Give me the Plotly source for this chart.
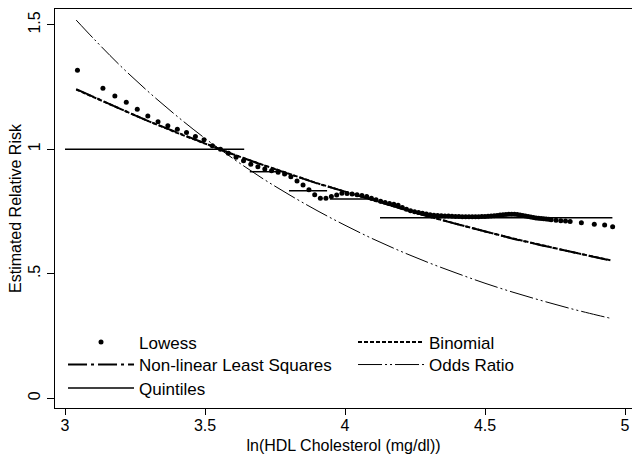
import numpy as np
import plotly.graph_objects as go

# ---------------- data ----------------
# Lowess smoother, evaluated at observed HDL values (mg/dl); x-axis is ln(HDL)
lowess_hdl = [21, 23, 24, 25, 26, 27, 28, 29, 30, 31, 32, 33, 34, 35, 36, 37, 38, 39, 40,
              41, 42, 43, 44, 45, 46, 47, 48, 49, 50, 51, 52, 53, 54, 55, 56, 57, 58, 59, 60,
              61, 62, 63, 64, 65, 66, 67, 68, 69, 70, 71, 72, 73, 74, 75, 76, 77, 78, 79, 80,
              81, 82, 83, 84, 85, 86, 87, 88, 89, 90, 91, 92, 93, 94, 95, 96, 97, 98, 99, 100,
              101, 102, 103, 104, 105, 106, 107, 108, 109, 110, 111, 112, 113, 114, 116, 118,
              120, 122, 127, 133, 138, 142]
lowess_rr = [1.318, 1.245, 1.214, 1.189, 1.161, 1.134, 1.111, 1.095, 1.081, 1.067, 1.051,
             1.038, 1.014, 1.000, 0.984, 0.968, 0.954, 0.940, 0.930, 0.921, 0.914, 0.908,
             0.901, 0.890, 0.873, 0.857, 0.838, 0.817, 0.803, 0.803, 0.810, 0.816, 0.824,
             0.822, 0.820, 0.817, 0.814, 0.810, 0.803, 0.797, 0.791, 0.786, 0.782, 0.779,
             0.775, 0.766, 0.759, 0.753, 0.749, 0.746, 0.743, 0.740, 0.737, 0.735, 0.734,
             0.733, 0.732, 0.732, 0.731, 0.730, 0.730, 0.729, 0.729, 0.729, 0.729, 0.729,
             0.729, 0.730, 0.730, 0.731, 0.732, 0.733, 0.734, 0.736, 0.737, 0.738, 0.739,
             0.739, 0.739, 0.738, 0.736, 0.734, 0.732, 0.730, 0.728, 0.726, 0.724, 0.723,
             0.722, 0.721, 0.720, 0.719, 0.717, 0.715, 0.713, 0.712, 0.710, 0.705, 0.699,
             0.696, 0.689]

# Fitted curves (ln HDL grid)
curve_x = [3.04, 3.10, 3.20, 3.30, 3.40, 3.50, 3.60, 3.70, 3.80, 3.90, 4.00, 4.10, 4.20,
           4.30, 4.40, 4.50, 4.60, 4.70, 4.80, 4.90, 4.95]
nls_rr = [1.242, 1.211, 1.161, 1.112, 1.067, 1.022, 0.980, 0.939, 0.900, 0.863, 0.830,
          0.795, 0.762, 0.729, 0.699, 0.669, 0.641, 0.615, 0.589, 0.565, 0.553]
binomial_rr = [1.240, 1.210, 1.160, 1.112, 1.066, 1.022, 0.980, 0.940, 0.901, 0.864, 0.830,
               0.795, 0.762, 0.730, 0.699, 0.670, 0.642, 0.615, 0.590, 0.566, 0.554]
odds_ratio_rr = [1.519, 1.447, 1.333, 1.229, 1.133, 1.044, 0.963, 0.887, 0.818, 0.754,
                 0.695, 0.640, 0.590, 0.544, 0.502, 0.462, 0.426, 0.393, 0.362, 0.334, 0.321]

# Quintile step estimates: (start, end, relative risk)
quint_start = [3.00, 3.66, 3.80, 3.946, 4.125]
quint_end = [3.64, 3.757, 3.936, 4.107, 4.955]
quint_rr = [1.00, 0.91, 0.834, 0.80, 0.725]

x_ticks = [3, 3.5, 4, 4.5, 5]
x_ticklabels = ["3", "3.5", "4", "4.5", "5"]
y_ticks = [0, 0.5, 1, 1.5]
y_ticklabels = ["0", ".5", "1", "1.5"]

FONT = "Liberation Sans, Arial, sans-serif"

# ---------------- figure ----------------
fig = go.Figure()

fig.add_trace(go.Scatter(
    x=np.log(lowess_hdl), y=lowess_rr, mode="markers", name="Lowess",
    marker=dict(color="black", size=5, line=dict(width=0)), legend="legend"))

fig.add_trace(go.Scatter(
    x=curve_x, y=binomial_rr, mode="lines", name="Binomial",
    line=dict(color="black", width=2, dash="4px,2px"), legend="legend2"))

fig.add_trace(go.Scatter(
    x=curve_x, y=nls_rr, mode="lines", name="Non-linear Least Squares",
    line=dict(color="black", width=2, dash="19px,4px,3px,4px"), legend="legend3"))

fig.add_trace(go.Scatter(
    x=curve_x, y=odds_ratio_rr, mode="lines", name="Odds Ratio", line_shape="spline",
    line=dict(color="black", width=1, dash="24px,3px,2px,3px,2px,3px"), legend="legend4"))

qx, qy = [], []
for s, e, r in zip(quint_start, quint_end, quint_rr):
    qx += [s, e, None]
    qy += [r, r, None]
fig.add_trace(go.Scatter(
    x=qx, y=qy, mode="lines", name="Quintiles", connectgaps=False,
    line=dict(color="black", width=1.5), legend="legend5"))

legend_common = dict(
    bgcolor="rgba(0,0,0,0)", borderwidth=0, font=dict(family=FONT, size=17, color="black"),
    itemwidth=66, traceorder="normal", orientation="v", xanchor="left", yanchor="middle",
    tracegroupgap=0, itemclick=False, itemdoubleclick=False)

LX, RX = 0.0139, 0.5165
R1, R2, R3 = 0.1642, 0.1078, 0.0489

fig.update_layout(
    width=632, height=458,
    margin=dict(l=55, r=0, t=9, b=50),
    paper_bgcolor="white", plot_bgcolor="white",
    font=dict(family=FONT, size=16, color="black"),
    showlegend=True,
    legend=dict(x=LX, y=R1, **legend_common),
    legend2=dict(x=RX, y=R1, **legend_common),
    legend3=dict(x=LX, y=R2, **legend_common),
    legend4=dict(x=RX, y=R2, **legend_common),
    legend5=dict(x=LX, y=R3, **legend_common),
    xaxis=dict(
        range=[2.9643, 5.025], tickvals=x_ticks, ticktext=x_ticklabels,
        showline=True, linecolor="black", linewidth=1.3, mirror=True,
        ticks="outside", ticklen=6, tickwidth=1.2, tickcolor="black",
        showgrid=False, zeroline=False, ticklabelstandoff=-3,
        tickfont=dict(size=16),
        title=dict(text="ln(HDL Cholesterol (mg/dl))", font=dict(size=16), standoff=6),
    ),
    yaxis=dict(
        range=[-0.039, 1.5635], tickvals=y_ticks, ticktext=y_ticklabels,
        showline=True, linecolor="black", linewidth=1.3, mirror=False,
        ticks="outside", ticklen=7, tickwidth=1.2, tickcolor="black",
        showgrid=False, zeroline=False, tickangle=-90,
        tickfont=dict(size=16),
        title=dict(text="Estimated Relative Risk", font=dict(size=16), standoff=0),
    ),
)

fig.write_html("out.html")
